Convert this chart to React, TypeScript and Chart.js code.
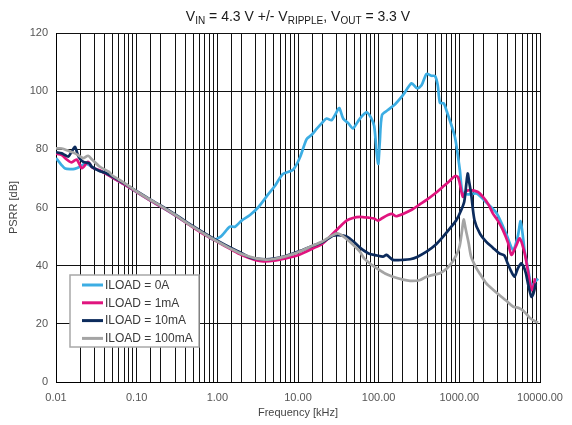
import React, { useEffect, useRef } from 'react';
import { Chart, registerables } from 'chart.js';

Chart.register(...registerables);

// ---- Data (frequency in kHz, PSRR in dB) ----
const freq0A = [0.01, 0.0118, 0.013, 0.015, 0.017, 0.0198, 0.023, 0.026, 0.03, 0.04, 0.05, 0.07, 0.1, 0.15, 0.2, 0.3, 0.5, 0.7, 0.89, 1.1, 1.43, 1.66, 2.0, 2.54, 3.2, 4.26, 5.2, 6.5, 8.7, 10.5, 12.8, 14.8, 17, 20, 22.6, 26, 29, 32.4, 36.4, 42, 48, 58.5, 70.7, 80, 88, 95, 99, 103, 110, 130, 160, 201, 256, 300, 340, 392, 450, 500, 540, 575, 640, 700, 880, 1014, 1100, 1300, 1640, 2200, 2900, 3800, 4640, 5300, 5750, 6200, 6450, 7200, 7830, 8700, 9500];
const psrr0A = [77, 74.5, 73.4, 73.2, 73.3, 74, 75.2, 74.5, 73.4, 72, 70.3, 68, 65.3, 62.3, 60.3, 57.3, 53.3, 50.8, 49, 50, 53.4, 53.4, 55.5, 57.4, 60, 64.5, 67.5, 71.5, 73, 77, 83.5, 85, 87, 89.2, 90.6, 90, 92, 94.2, 90.5, 89, 87.2, 90.6, 92.7, 91, 88, 78, 75, 82, 91.8, 93.5, 95.5, 98.7, 102.7, 101, 102, 105.9, 105.3, 105.2, 102, 96, 95.8, 93, 84.3, 73, 65, 64.5, 64.8, 61.5, 58, 51, 45.4, 50, 55.3, 49, 45, 38, 33, 34.5, 35.5];

const freq1mA = [0.01, 0.0118, 0.0136, 0.0156, 0.018, 0.021, 0.025, 0.028, 0.035, 0.04, 0.05, 0.07, 0.1, 0.15, 0.2, 0.3, 0.5, 0.7, 1.0, 1.5, 2, 3, 3.7, 5, 7, 10, 15.5, 20, 25, 33, 40, 48, 58.5, 75, 88, 98, 110, 130, 146, 165, 200, 260, 320, 392, 500, 625, 750, 880, 950, 1000, 1105, 1200, 1349, 1680, 1950, 2300, 2600, 3000, 3460, 4000, 4430, 5000, 5620, 6450, 7000, 7830, 8300, 8700];
const psrr1mA = [78.5, 78, 76.5, 75.5, 76.5, 73.5, 75.7, 73.8, 72.8, 71.8, 70.3, 68, 65.3, 62.3, 60.3, 57.3, 53.2, 50.6, 48.2, 45.5, 43.7, 41.9, 41.5, 41.7, 42.5, 43.6, 46, 47.5, 50, 53.4, 55.5, 56.4, 56.8, 56.5, 56.2, 55.5, 56.3, 57.4, 57.8, 57, 57.8, 59.3, 61, 62.6, 64.8, 67.1, 69, 70.8, 70.6, 69, 63.7, 65.5, 66, 65.4, 63.7, 61, 58, 55.5, 52.3, 48, 43.7, 46.5, 49.4, 44.3, 39, 31.6, 33, 35.7];

const freq10mA = [0.01, 0.0118, 0.013, 0.0142, 0.0155, 0.0172, 0.019, 0.0218, 0.026, 0.0277, 0.035, 0.04, 0.05, 0.07, 0.1, 0.15, 0.2, 0.3, 0.5, 0.7, 1.0, 1.5, 2, 2.54, 3, 4, 5, 7, 10.5, 15, 20, 27, 32, 40, 50, 58.5, 75, 95, 113, 125, 150, 200, 245, 300, 392, 500, 630, 800, 920, 1050, 1150, 1220, 1270, 1320, 1400, 1540, 1800, 2160, 2600, 3130, 3600, 3970, 4400, 4830, 5300, 5850, 6300, 6680, 7200, 7830, 8300, 8900];
const psrr10mA = [79, 78.6, 78, 77.5, 79, 80.8, 77.5, 75.7, 75.2, 74, 72.5, 72, 70.6, 68.3, 65.6, 62.6, 60.6, 57.6, 53.6, 51.1, 48.6, 46, 44.3, 42.8, 42.4, 42.2, 42.4, 43.3, 45, 46.8, 48, 50.3, 50.5, 50, 48, 46.2, 44.2, 43.5, 43.1, 43.7, 42, 42, 42.2, 43, 44.8, 47, 50, 53.5, 55.7, 59, 62, 68, 71.7, 69, 64.8, 55.7, 51, 48.2, 46.2, 44.2, 43.5, 40.8, 38, 36.2, 39, 40.8, 39.5, 37.4, 33, 29.3, 30.5, 33.9];

const freq100mA = [0.01, 0.0118, 0.0142, 0.0172, 0.02, 0.022, 0.025, 0.028, 0.035, 0.045, 0.05, 0.07, 0.1, 0.15, 0.2, 0.3, 0.5, 0.7, 1.0, 1.5, 2, 3, 4, 5, 7, 10, 15, 20, 25, 30.6, 36, 44, 58.5, 66, 80, 95, 120, 150, 200, 245, 320, 392, 500, 575, 700, 830, 950, 1014, 1080, 1130, 1200, 1300, 1400, 1600, 1800, 2160, 2600, 3130, 3800, 4640, 5000, 5620, 6000, 6680, 7500, 8900, 9500];
const psrr100mA = [80.3, 80.3, 79.5, 78.6, 77.5, 77, 77.8, 76.5, 74, 72.3, 71, 68.5, 65.5, 62.5, 60.5, 57.5, 53.3, 50.8, 48.3, 45.7, 44, 42.5, 42.1, 42.3, 43.2, 44.6, 46.8, 48.3, 50, 51.1, 50.2, 48.2, 44.8, 42.5, 40.5, 39.1, 37.3, 36.2, 35.2, 34.8, 35, 36.2, 37, 37.4, 39, 41.5, 44.5, 47, 52, 55.9, 52.5, 48, 43.1, 39.5, 37.2, 33.9, 31.8, 29.9, 28, 25.9, 25.7, 25.3, 24.8, 23.6, 22, 20.7, 20.5];

const seriesLabels = ['ILOAD = 0A', 'ILOAD = 1mA', 'ILOAD = 10mA', 'ILOAD = 100mA'];
const seriesColors = ['#3CADE3', '#E0147E', '#0C2B5C', '#A4A4A4'];
const seriesFreqs = [freq0A, freq1mA, freq10mA, freq100mA];
const seriesValues = [psrr0A, psrr1mA, psrr10mA, psrr100mA];

const xMin = 0.01;
const xMax = 10000;
const yMin = 0;
const yMax = 120;
const yStep = 20;

const titleParts: [string, boolean][] = [
  ['V', false], ['IN', true], [' = 4.3 V +/- V', false], ['RIPPLE', true],
  [', V', false], ['OUT', true], [' = 3.3 V', false],
];
const xTitle = 'Frequency [kHz]';
const yTitle = 'PSRR [dB]';

const FONT = "'Liberation Sans', Arial, sans-serif";

const titlePlugin = {
  id: 'subTitle',
  afterDraw(chart: any) {
    const ctx = chart.ctx;
    const area = chart.chartArea;
    ctx.save();
    ctx.fillStyle = '#1a1a1a';
    ctx.textBaseline = 'alphabetic';
    const mainFont = `14px ${FONT}`;
    const subFont = `10px ${FONT}`;
    let total = 0;
    const widths = titleParts.map(([t, sub]) => {
      ctx.font = sub ? subFont : mainFont;
      const w = ctx.measureText(t).width;
      total += w;
      return w;
    });
    let x = (area.left + area.right) / 2 - total / 2;
    const baseY = 21;
    titleParts.forEach(([t, sub], i) => {
      ctx.font = sub ? subFont : mainFont;
      ctx.textAlign = 'left';
      ctx.fillText(t, x, sub ? baseY + 3 : baseY);
      x += widths[i];
    });
    ctx.restore();
  },
};

const legendPlugin = {
  id: 'boxLegend',
  afterDraw(chart: any) {
    const ctx = chart.ctx;
    const area = chart.chartArea;
    const left = area.left + 14;
    const top = area.top + 242;
    const w = 129;
    const h = 72;
    ctx.save();
    ctx.fillStyle = '#ffffff';
    ctx.fillRect(left, top, w, h);
    ctx.strokeStyle = '#a8a8a8';
    ctx.lineWidth = 1.5;
    ctx.strokeRect(left, top, w, h);
    ctx.font = `12px ${FONT}`;
    ctx.textBaseline = 'middle';
    ctx.textAlign = 'left';
    chart.data.datasets.forEach((ds: any, i: number) => {
      const yy = top + 10 + i * 17.8;
      ctx.strokeStyle = ds.borderColor;
      ctx.lineWidth = 3;
      ctx.beginPath();
      ctx.moveTo(left + 12, yy);
      ctx.lineTo(left + 33, yy);
      ctx.stroke();
      ctx.fillStyle = '#3a3a3a';
      ctx.fillText(ds.label, left + 35, yy + 0.5);
    });
    ctx.restore();
  },
};

function isDecade(v: number) {
  const l = Math.log10(v);
  return Math.abs(l - Math.round(l)) < 1e-6;
}

export default function App() {
  const ref = useRef<HTMLCanvasElement | null>(null);

  useEffect(() => {
    if (!ref.current) return;
    const datasets = seriesLabels.map((label, i) => ({
      label,
      data: seriesFreqs[i].map((f, j) => ({ x: f, y: seriesValues[i][j] })),
      borderColor: seriesColors[i],
      backgroundColor: seriesColors[i],
      borderWidth: 2.7,
      pointRadius: 0,
      tension: 0.25,
      fill: false,
      order: 4 - i,
    }));

    const chart = new Chart(ref.current, {
      type: 'line',
      data: { datasets },
      plugins: [titlePlugin, legendPlugin],
      options: {
        animation: false,
        responsive: false,
        layout: { padding: { top: 33, right: 32, left: 0, bottom: 0 } },
        plugins: {
          legend: { display: false },
          title: { display: false },
          tooltip: { enabled: false },
        },
        scales: {
          x: {
            type: 'logarithmic',
            min: xMin,
            max: xMax,
            border: { display: true, color: '#000', width: 1 },
            grid: { color: '#111', lineWidth: 1, drawTicks: false },
            ticks: {
              autoSkip: false,
              maxRotation: 0,
              minRotation: 0,
              padding: 9,
              color: '#555',
              font: { family: FONT, size: 11 },
              callback: (v: any) => (isDecade(Number(v)) ? Number(v).toFixed(2) : ''),
            },
            title: {
              display: true,
              text: xTitle,
              color: '#444',
              font: { family: FONT, size: 11 },
              padding: { top: 0, bottom: 5 },
            },
            afterFit: (s: any) => {
              s.height = 43;
              s.paddingLeft = 0;
              s.paddingRight = 0;
            },
          },
          y: {
            type: 'linear',
            min: yMin,
            max: yMax,
            border: { display: true, color: '#000', width: 1 },
            grid: { color: '#111', lineWidth: 1, drawTicks: false },
            ticks: {
              stepSize: yStep,
              padding: 8,
              color: '#555',
              font: { family: FONT, size: 11 },
            },
            title: {
              display: true,
              text: yTitle,
              color: '#444',
              font: { family: FONT, size: 11 },
              padding: { top: 7, bottom: 0 },
            },
            afterFit: (s: any) => {
              s.width = 56;
              s.paddingTop = 0;
              s.paddingBottom = 0;
            },
          },
        },
      } as any,
    });
    return () => chart.destroy();
  }, []);

  return (
    <div style={{ position: 'absolute', left: 0, top: 0, width: 572, height: 425, background: '#fff' }}>
      <canvas ref={ref} width={572} height={425} />
    </div>
  );
}
